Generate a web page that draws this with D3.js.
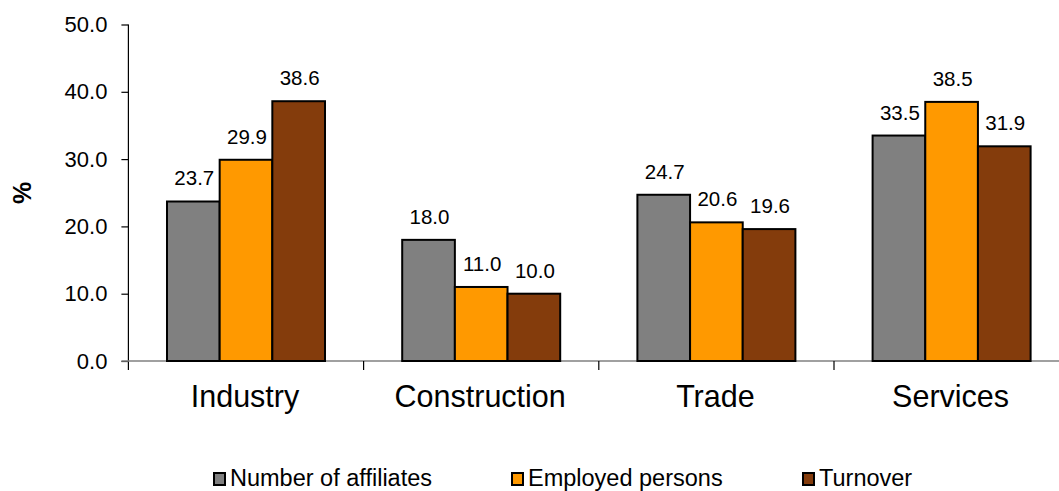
<!DOCTYPE html>
<html>
<head>
<meta charset="utf-8">
<script src="https://cdn.jsdelivr.net/npm/d3@7"></script>
<style>
  html, body { margin: 0; padding: 0; background: #fff; }
  svg { display: block; font-family: Arial, "Liberation Sans", sans-serif; }
</style>
</head>
<body>
<svg id="chart" width="1059" height="491"></svg>
<script>
// Share of foreign affiliates by sector (%)
const categories = ["Industry", "Construction", "Trade", "Services"];
const seriesNames = ["Number of affiliates", "Employed persons", "Turnover"];
const affiliates = [23.7, 18.0, 24.7, 33.5];
const employed = [29.9, 11.0, 20.6, 38.5];
const turnover = [38.6, 10.0, 19.6, 31.9];
const yTicks = [0, 10, 20, 30, 40, 50];
const colors = ["#808080", "#FF9900", "#843C0C"];

const seriesValues = [affiliates, employed, turnover];
const rows = categories.map((c, i) => ({
  category: c,
  values: seriesNames.map((s, j) => ({ series: s, idx: j, value: seriesValues[j][i] }))
}));

const svg = d3.select("#chart");
const left = 128.4, step = 235.2;
const plotTop = 24.5, plotBottom = 361;

const x0 = d3.scaleBand().domain(categories).range([left, left + step * categories.length]).padding(0);
const groupPad = 38.6;
const x1 = d3.scaleBand().domain(seriesNames).range([groupPad, x0.bandwidth() - groupPad]).padding(0);
const y = d3.scaleLinear().domain([0, 50]).range([plotBottom, plotTop]);

// Y axis
const yAxis = d3.axisLeft(y).tickValues(yTicks).tickFormat(d3.format(".1f")).tickSize(7).tickPadding(14);
const gy = svg.append("g").attr("transform", `translate(${left},0)`).call(yAxis);
gy.select(".domain").remove();
gy.selectAll(".tick line").attr("stroke", "#000").attr("stroke-width", 1.2);
gy.selectAll(".tick text").attr("font-size", 22).attr("fill", "#000").attr("font-family", "Arial, 'Liberation Sans', sans-serif");
svg.append("line")
  .attr("x1", left).attr("x2", left)
  .attr("y1", plotTop).attr("y2", plotBottom + 9)
  .attr("stroke", "#000").attr("stroke-width", 1.2);

// Category axis baseline and boundary ticks
svg.append("line")
  .attr("x1", left - 7).attr("x2", 1059)
  .attr("y1", plotBottom).attr("y2", plotBottom)
  .attr("stroke", "#808080").attr("stroke-width", 1.5);
categories.forEach((c, i) => {
  if (i === 0) return;
  const bx = x0(c);
  svg.append("line")
    .attr("x1", bx).attr("x2", bx)
    .attr("y1", plotBottom).attr("y2", plotBottom + 9)
    .attr("stroke", "#000").attr("stroke-width", 1.2);
});

// Category labels
svg.append("g").selectAll("text").data(categories).join("text")
  .attr("x", d => x0(d) + x0.bandwidth() / 2 - 1)
  .attr("y", 407)
  .attr("text-anchor", "middle")
  .attr("font-size", 30.5)
  .attr("fill", "#000")
  .text(d => d);

// Bars
const groups = svg.append("g").selectAll("g").data(rows).join("g")
  .attr("transform", d => `translate(${x0(d.category)},0)`);

groups.selectAll("rect").data(d => d.values).join("rect")
  .attr("x", d => x1(d.series))
  .attr("y", d => y(d.value))
  .attr("width", x1.bandwidth())
  .attr("height", d => y(0) - y(d.value))
  .attr("fill", d => colors[d.idx])
  .attr("stroke", "#000")
  .attr("stroke-width", 2);

// Value labels
groups.selectAll("text.val").data(d => d.values).join("text")
  .attr("class", "val")
  .attr("x", d => x1(d.series) + x1.bandwidth() / 2 + 1)
  .attr("y", d => y(d.value) - 16)
  .attr("text-anchor", "middle")
  .attr("font-size", 20.5)
  .attr("fill", "#000")
  .text(d => d3.format(".1f")(d.value));

// Y axis title
svg.append("text")
  .attr("transform", "translate(31,193) rotate(-90)")
  .attr("text-anchor", "middle")
  .attr("font-size", 25)
  .attr("font-weight", "bold")
  .attr("fill", "#000")
  .text("%");

// Legend
const legendX = [214, 512, 803];
const legend = svg.append("g").selectAll("g").data(seriesNames).join("g")
  .attr("transform", (d, i) => `translate(${legendX[i]},473)`);
legend.append("rect")
  .attr("x", 0).attr("y", 0).attr("width", 11).attr("height", 12)
  .attr("fill", (d, i) => colors[i])
  .attr("stroke", "#000").attr("stroke-width", 2);
legend.append("text")
  .attr("x", 16).attr("y", 13)
  .attr("font-size", 23.5)
  .attr("fill", "#000")
  .text(d => d);
</script>
</body>
</html>
